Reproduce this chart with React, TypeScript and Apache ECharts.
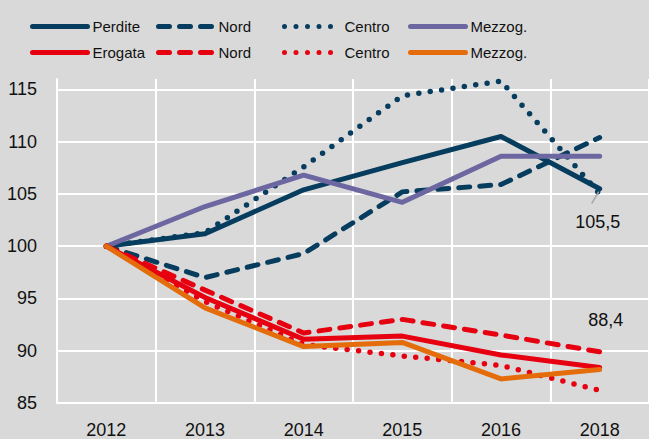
import React, { useEffect, useRef } from "react";
import * as echarts from "echarts";

const years = ["2012", "2013", "2014", "2015", "2016", "2018"];
const perdite = [100, 101.2, 105.4, 108.0, 110.5, 105.5];
const perditeNord = [100, 97.0, 99.3, 105.2, 105.9, 110.4];
const perditeCentro = [100, 101.3, 107.6, 114.4, 115.8, 105.0];
const perditeMezz = [100, 103.8, 106.8, 104.2, 108.6, 108.6];
const erogata = [100, 95.1, 91.1, 91.4, 89.6, 88.4];
const erogataNord = [100, 95.8, 91.7, 93.0, 91.5, 89.9];
const erogataCentro = [100, 94.7, 90.6, 89.5, 88.6, 86.2];
const erogataMezz = [100, 94.1, 90.4, 90.8, 87.3, 88.2];
const legendRow1 = ["Perdite", "Nord|P", "Centro|P", "Mezzog.|P"];
const legendRow2 = ["Erogata", "Nord|E", "Centro|E", "Mezzog.|E"];
const yTicks = { min: 85, max: 116, interval: 5 };

const NAVY = "#063D5E";
const PURPLE = "#6C67A0";
const RED = "#E60010";
const ORANGE = "#E46C0A";
const FONT = "'Liberation Sans Narrow', 'Arial Narrow', 'Liberation Sans', Arial, sans-serif";

const DASH = [11, 10];
const DOT = [0, 11.5];

function mk(name: string, data: any[], color: string, type: any, width: number, extra: any = {}) {
  return {
    name,
    type: "line",
    data,
    symbol: "none",
    lineStyle: { color, width, type, cap: "round", join: "round" },
    itemStyle: { color },
    ...extra,
  };
}

export default function App() {
  const ref = useRef<HTMLDivElement>(null);
  useEffect(() => {
    const chart = echarts.init(ref.current!, null, { renderer: "svg" });
    const last = years.length - 1;
    const withLabel = (data: number[], label: string, pos: string, dist: number) =>
      data.map((v, i) =>
        i === last
          ? {
              value: v,
              symbol: "circle",
              symbolSize: 1,
              itemStyle: { color: "rgba(0,0,0,0)" },
              label: {
                show: true,
                position: pos,
                distance: dist,
                formatter: label,
                fontFamily: FONT,
                fontSize: 18,
                color: "#111",
              },
            }
          : v
      );
    const legendBase = {
      itemWidth: 55,
      itemHeight: 14,
      itemStyle: { color: "rgba(0,0,0,0)", borderWidth: 0, opacity: 0 },
      lineStyle: { width: 5, cap: "round" },
      textStyle: { fontFamily: FONT, fontSize: 15, color: "#111" },
      formatter: (n: string) => n.split("|")[0],
    };
    const legends: any[] = [];
    legendRow1.forEach((n, i) => legends.push({ ...legendBase, left: 25 + 126 * i, top: 14, data: [n] }));
    legendRow2.forEach((n, i) => legends.push({ ...legendBase, left: 25 + 126 * i, top: 40, data: [n] }));
    chart.setOption({
      animation: false,
      backgroundColor: "#D9D9D9",
      legend: legends,
      grid: { left: 57, top: 79, bottom: 35, width: 598, containLabel: false },
      xAxis: {
        type: "category",
        data: years,
        boundaryGap: true,
        axisLine: { show: true, lineStyle: { color: "#FFFFFF", width: 2 } },
        axisTick: { show: false },
        splitLine: { show: true, lineStyle: { color: "#FFFFFF", width: 2 } },
        axisLabel: { fontFamily: FONT, fontSize: 18, color: "#111", margin: 18 },
      },
      yAxis: {
        type: "value",
        min: yTicks.min,
        max: yTicks.max,
        interval: yTicks.interval,
        axisLine: { show: true, lineStyle: { color: "#FFFFFF", width: 2 } },
        axisTick: { show: false },
        splitLine: { show: true, showMaxLine: false, lineStyle: { color: "#FFFFFF", width: 2 } },
        axisLabel: { fontFamily: FONT, fontSize: 18, color: "#111", margin: 20, showMaxLabel: false },
      },
      series: [
        mk("Perdite", withLabel(perdite, "105,5", "bottom", 0), NAVY, "solid", 5, {
          labelLayout: { dx: -2, dy: 24 },
        }),
        mk("Nord|P", perditeNord, NAVY, DASH, 5),
        mk("Centro|P", perditeCentro, NAVY, DOT, 5.5),
        mk("Mezzog.|P", perditeMezz, PURPLE, "solid", 5),
        mk("Erogata", withLabel(erogata, "88,4", "top", 38), RED, "solid", 5, {
          labelLayout: { dx: 6 },
        }),
        mk("Nord|E", erogataNord, RED, DASH, 5),
        mk("Centro|E", erogataCentro, RED, DOT, 5.5),
        mk("Mezzog.|E", erogataMezz, ORANGE, "solid", 5),
      ],
    });
    const p = chart.convertToPixel({ gridIndex: 0 }, [years[last], perdite[last]]) as number[];
    if (p) {
      chart.setOption({
        graphic: [
          {
            type: "line",
            z: 100,
            shape: { x1: p[0] - 1, y1: p[1] + 3, x2: p[0] - 8, y2: p[1] + 15 },
            style: { stroke: "#A6A6A6", lineWidth: 1.5 },
          },
        ],
      });
    }
    return () => chart.dispose();
  }, []);
  return (
    <div
      ref={ref}
      style={{ position: "fixed", left: 0, top: 0, width: 649, height: 439 }}
    />
  );
}
